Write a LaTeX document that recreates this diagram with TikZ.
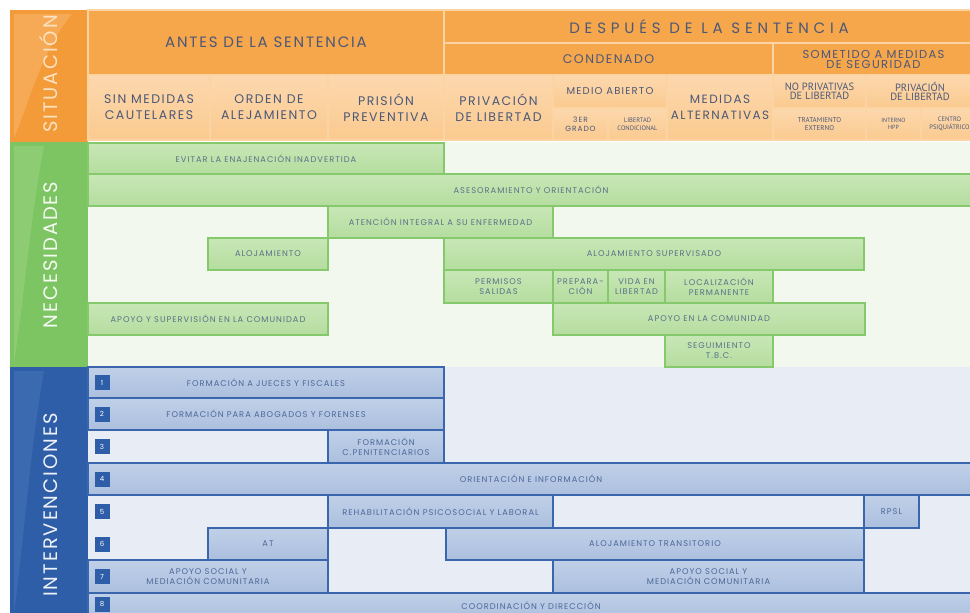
\documentclass[tikz,border=0pt]{standalone}
\usepackage{fontspec}
\setmainfont{Poppins}
\newfontfamily\capsfont[LetterSpace=12]{Poppins}
\newfontfamily\widefont[LetterSpace=32]{Poppins}
\newfontfamily\bandfont[LetterSpace=10]{Poppins}
\newfontfamily\slimfont{PT Sans}

\definecolor{orDark}{HTML}{F39B39}
\definecolor{orPale}{HTML}{F6AA55}
\definecolor{orMid}{HTML}{F6A64B}
\definecolor{orLight}{HTML}{FBCA8F}
\definecolor{orTop}{HTML}{FCD8AE}
\definecolor{orLine}{HTML}{FCD3A2}
\definecolor{orText}{HTML}{FDE2C2}
\definecolor{hdText}{HTML}{4B5878}
\definecolor{grBand}{HTML}{7DC563}
\definecolor{grPale}{HTML}{8DCC73}
\definecolor{grBox}{HTML}{B5DD9F}
\definecolor{grTop}{HTML}{C8E7B6}
\definecolor{grLine}{HTML}{86C86C}
\definecolor{grBack}{HTML}{F2F8EE}
\definecolor{grText}{HTML}{5A7288}
\definecolor{blBand}{HTML}{2E5EA7}
\definecolor{blPale}{HTML}{3C6AB1}
\definecolor{blBox}{HTML}{ABBFDE}
\definecolor{blTop}{HTML}{C0D0E8}
\definecolor{blLine}{HTML}{3A66AD}
\definecolor{blBack}{HTML}{E8EDF5}
\definecolor{blText}{HTML}{4D6899}

% cell: name, x1, y1, x2, y2, style, text
\newcommand\cellbox[7]{%
  \node at ({(#2+#4)/2},{(#3+#5)/2}) [#6, minimum width={(#4-#2)*1pt}, minimum height={(#5-#3)*1pt}] (#1) {#7};}

\begin{document}
\begin{tikzpicture}[x=1pt, y=-1pt,
    hdcell/.style={fill=orMid, draw=orLine, line width=1.5pt, text=hdText, align=center, inner sep=0pt,
      font=\capsfont\fontsize{15}{15}\selectfont},
    subcell/.style={hdcell, top color=orTop, bottom color=orLight, font=\capsfont\fontsize{12.5}{16}\selectfont},
    slimcell/.style={subcell, font=\slimfont\fontsize{10.5}{9}\selectfont},
    tinycell/.style={subcell, font=\slimfont\fontsize{6.5}{7.5}\selectfont},
    needbox/.style={top color=grTop, bottom color=grBox, draw=grLine, line width=1.2pt, text=grText, align=center,
      inner sep=0pt, font=\capsfont\fontsize{8.3}{10}\selectfont},
    actbox/.style={needbox, top color=blTop, bottom color=blBox, draw=blLine, text=blText},
    numbox/.style={fill=blBand, text=white, minimum size=15pt, inner sep=0pt, font=\fontsize{7}{7}\selectfont},
    bandlbl/.style={rotate=90, font=\bandfont\fontsize{19.5}{19.5}\selectfont}]
    \useasboundingbox (0,0) rectangle (970,613);
    \clip (0,0) rectangle (970,613);
    \fill[white] (0,0) rectangle (970,613);

    %left bands
    \fill[orDark] (10,10) rectangle (88,142);
    \fill[orPale] (14,14) -- (72,14) .. controls (42,50) and (30,100) .. (14,138) -- cycle;
    \fill[grBand] (10,142) rectangle (88,367);
    \fill[grPale] (14,146) -- (44,146) .. controls (30,220) and (24,300) .. (14,362) -- cycle;
    \fill[blBand] (10,367) rectangle (88,613);
    \fill[blPale] (14,371) -- (44,371) .. controls (30,450) and (24,540) .. (14,613) -- cycle;
    \node[bandlbl, text=orText] (situacion) at (49,74) {SITUACIÓN};
    \node[bandlbl, text=white!92!grBand] (necesidades) at (51,255) {NECESIDADES};
    \node[bandlbl, text=white!92!blBand] (intervenciones) at (51,505) {INTERVENCIONES};

    %backgrounds
    \fill[grBack] (88,142) rectangle (970,367);
    \fill[blBack] (88,367) rectangle (970,613);

    %situacion
    \cellbox{antes}{88}{10}{444}{75}{hdcell}{ANTES DE LA SENTENCIA}
    \cellbox{despues}{444}{10}{974}{43}{hdcell, font=\widefont\fontsize{15}{15}\selectfont}{DESPUÉS DE LA SENTENCIA}
    \cellbox{condenado}{444}{43}{773}{75}{hdcell, font=\capsfont\fontsize{12.5}{12}\selectfont}{CONDENADO}
    \cellbox{sometido}{773}{43}{974}{75}{hdcell, font=\capsfont\fontsize{11.5}{10}\selectfont}{SOMETIDO A MEDIDAS\\DE SEGURIDAD}
    \cellbox{sinmedidas}{88}{75}{210}{140}{subcell}{SIN MEDIDAS\\CAUTELARES}
    \cellbox{orden}{210}{75}{328}{140}{subcell}{ORDEN DE\\ALEJAMIENTO}
    \cellbox{prision}{328}{75}{444}{140}{subcell}{PRISIÓN\\PREVENTIVA}
    \cellbox{privacion}{444}{75}{553}{140}{subcell}{PRIVACIÓN\\DE LIBERTAD}
    \cellbox{medio}{553}{75}{667}{108}{subcell, font=\capsfont\fontsize{10}{10}\selectfont}{MEDIO ABIERTO}
    \cellbox{tercer}{553}{108}{608}{140}{subcell, font=\capsfont\fontsize{7.5}{9}\selectfont}{3ER\\GRADO}
    \cellbox{libcond}{608}{108}{667}{140}{tinycell}{LIBERTAD\\CONDICIONAL}
    \cellbox{medalt}{667}{75}{773}{140}{subcell, font=\capsfont\fontsize{12}{16}\selectfont}{MEDIDAS\\ALTERNATIVAS}
    \cellbox{noprivat}{773}{75}{866}{108}{slimcell}{NO PRIVATIVAS\\DE LIBERTAD}
    \cellbox{tratam}{773}{108}{866}{140}{tinycell, font=\slimfont\fontsize{7}{8}\selectfont}{TRATAMIENTO\\EXTERNO}
    \cellbox{privseg}{866}{75}{974}{108}{slimcell}{PRIVACIÓN\\DE LIBERTAD}
    \cellbox{interno}{866}{108}{921}{140}{tinycell, font=\slimfont\fontsize{6}{7}\selectfont}{INTERNO\\HPP}
    \cellbox{centro}{921}{108}{978}{140}{tinycell}{CENTRO\\PSIQUIÁTRICO}

    %necesidades
    \cellbox{evitar}{88}{143}{444}{174}{needbox}{EVITAR LA ENAJENACIÓN INADVERTIDA}
    \cellbox{asesor}{88}{174}{974}{206}{needbox}{ASESORAMIENTO Y ORIENTACIÓN}
    \cellbox{atencion}{328}{206}{553}{238}{needbox}{ATENCIÓN INTEGRAL A SU ENFERMEDAD}
    \cellbox{alojamiento}{208}{238}{328}{270}{needbox}{ALOJAMIENTO}
    \cellbox{alojsup}{444}{238}{864}{270}{needbox}{ALOJAMIENTO SUPERVISADO}
    \cellbox{permisos}{444}{270}{553}{303}{needbox}{PERMISOS\\SALIDAS}
    \cellbox{prepara}{553}{270}{608}{303}{needbox}{PREPARA-\\CIÓN}
    \cellbox{vida}{608}{270}{665}{303}{needbox}{VIDA EN\\LIBERTAD}
    \cellbox{localiz}{665}{270}{773}{303}{needbox}{LOCALIZACIÓN\\PERMANENTE}
    \cellbox{apoyosup}{88}{303}{328}{335}{needbox}{APOYO Y SUPERVISIÓN EN LA COMUNIDAD}
    \cellbox{apoyocom}{553}{303}{865}{335}{needbox}{APOYO EN LA COMUNIDAD}
    \cellbox{seguim}{665}{335}{773}{367}{needbox}{SEGUIMIENTO\\T.B.C.}

    %intervenciones
    \cellbox{jueces}{88}{367}{444}{398}{actbox}{FORMACIÓN A JUECES Y FISCALES}
    \cellbox{abogados}{88}{398}{444}{430}{actbox}{FORMACIÓN PARA ABOGADOS Y FORENSES}
    \cellbox{penit}{328}{430}{444}{463}{actbox}{FORMACIÓN\\C.PENITENCIARIOS}
    \cellbox{orienta}{88}{463}{974}{495}{actbox}{ORIENTACIÓN E INFORMACIÓN}
    \cellbox{rehab}{328}{495}{553}{528}{actbox}{REHABILITACIÓN PSICOSOCIAL Y LABORAL}
    \cellbox{rpsl}{864}{495}{919}{528}{actbox}{RPSL}
    \cellbox{at}{208}{528}{328}{560}{actbox}{AT}
    \cellbox{alojtr}{446}{528}{864}{560}{actbox}{ALOJAMIENTO TRANSITORIO}
    \cellbox{mediaA}{88}{560}{328}{593}{actbox}{APOYO SOCIAL Y\\MEDIACIÓN COMUNITARIA}
    \cellbox{mediaB}{553}{560}{864}{593}{actbox}{APOYO SOCIAL Y\\MEDIACIÓN COMUNITARIA}
    \cellbox{coord}{88}{593}{974}{619}{actbox}{COORDINACIÓN Y DIRECCIÓN}

    \foreach \n/\y in {1/382.5, 2/414, 3/446.5, 4/479, 5/511.5, 6/544, 7/576.5, 8/604}
      \node[numbox] (num\n) at (102,\y) {\n};
\end{tikzpicture}
\end{document}
